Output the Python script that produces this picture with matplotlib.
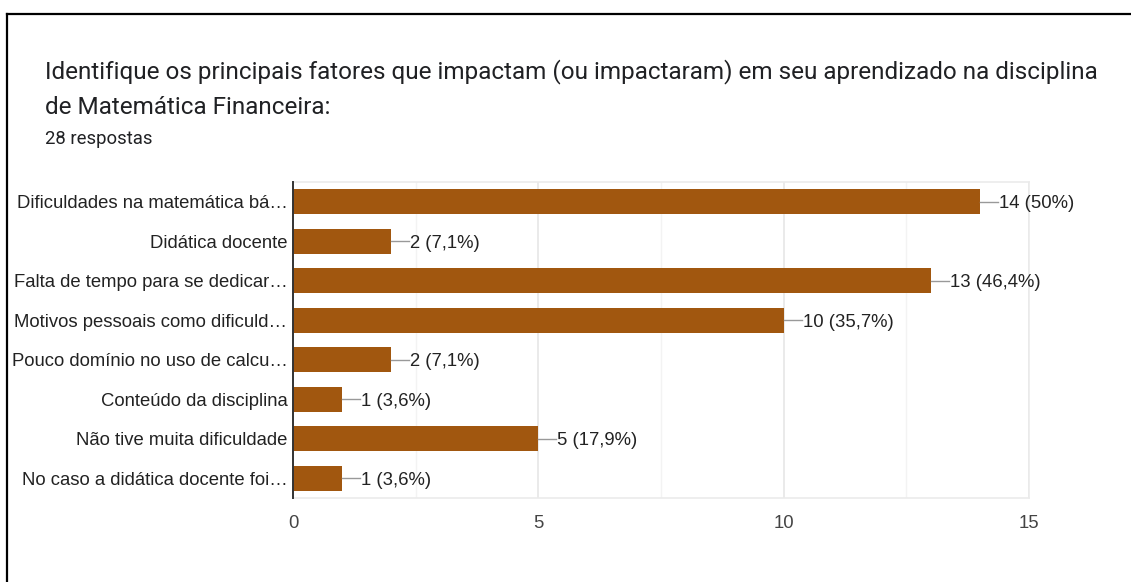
import matplotlib
matplotlib.use('Agg')
import matplotlib.pyplot as plt
from matplotlib.lines import Line2D

# Dados do gráfico (Google Forms)
categorias = [
    'Dificuldades na matemática bá…',
    'Didática docente',
    'Falta de tempo para se dedicar…',
    'Motivos pessoais como dificuld…',
    'Pouco domínio no uso de calcu…',
    'Conteúdo da disciplina',
    'Não tive muita dificuldade',
    'No caso a didática docente foi…',
]
respostas = [14, 2, 13, 10, 2, 1, 5, 1]
rotulos = ['14 (50%)', '2 (7,1%)', '13 (46,4%)', '10 (35,7%)',
           '2 (7,1%)', '1 (3,6%)', '5 (17,9%)', '1 (3,6%)']
ticks_x = [0, 5, 10, 15]

titulo = ('Identifique os principais fatores que impactam (ou impactaram) em seu aprendizado na disciplina\n'
          'de Matemática Financeira:')
subtitulo = '28 respostas'

COR_BARRA = '#a1570f'
W, H = 1131, 582
FS = 13.3

fig = plt.figure(figsize=(W / 100, H / 100), dpi=100)
ax = fig.add_axes([293 / W, 1 - 498 / H, (1029 - 293) / W, (498 - 182) / H])

pos = list(range(len(categorias)))
ax.barh(pos, respostas, height=0.63, color=COR_BARRA, zorder=3)
ax.set_ylim(len(categorias) - 0.5, -0.5)
ax.set_xlim(0, 15)

# grade vertical
ax.set_xticks(ticks_x)
ax.set_xticks([2.5, 7.5, 12.5], minor=True)
ax.grid(axis='x', which='major', color='#e6e6e6', lw=1.2, zorder=0)
ax.grid(axis='x', which='minor', color='#f3f3f3', lw=1.0, zorder=0)
for s in ['top', 'right', 'bottom']:
    ax.spines[s].set_color('#ebebeb')
    ax.spines[s].set_linewidth(1.2)
ax.spines['left'].set_color('#333333')
ax.spines['left'].set_linewidth(1.4)
ax.spines['left'].set_zorder(4)

ax.set_yticks(pos)
ax.set_yticklabels(categorias, fontsize=FS, family='Liberation Sans', color='#222222')
ax.tick_params(axis='y', length=0, pad=4)
ax.tick_params(axis='x', which='both', length=0, pad=12, labelsize=FS, labelcolor='#444444')
for lb in ax.get_xticklabels():
    lb.set_family('Liberation Sans')

# rótulos com conector
px = 15 / (1029 - 293)
for p, v, r in zip(pos, respostas, rotulos):
    ax.plot([v, v + 18 * px], [p, p], color='#999999', lw=1.0, zorder=3, clip_on=False)
    ax.text(v + 19 * px, p, r, va='center_baseline', ha='left', fontsize=FS,
            family='Liberation Sans', color='#222222', clip_on=False)

fig.text(45 / W, 1 - 89 / H, titulo, fontsize=17.5, family='Roboto', color='#202124',
         va='center', ha='left', linespacing=1.62)
fig.text(45 / W, 1 - 139 / H, subtitulo, fontsize=13.3, family='Roboto', color='#202124',
         va='center', ha='left')

# moldura
fig.add_artist(Line2D([7 / W, 1], [1 - 13.5 / H, 1 - 13.5 / H], color='black', lw=1.6))
fig.add_artist(Line2D([7 / W, 7 / W], [0, 1 - 13.5 / H], color='black', lw=1.6))

fig.savefig('out.png', dpi=100)
